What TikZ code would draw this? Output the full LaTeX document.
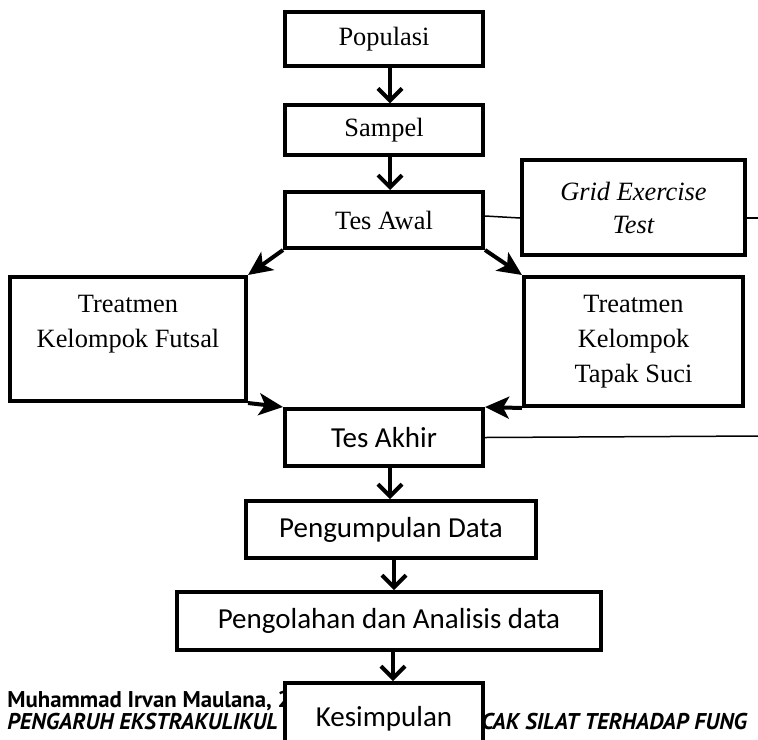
\documentclass[tikz,border=0pt]{standalone}
\usepackage{fontspec}
\setmainfont{Liberation Serif}
\newfontfamily\calibri{Carlito}
\newfontfamily\footfont{PT Sans}
\usetikzlibrary{arrows.meta}

\begin{document}
\begin{tikzpicture}[x=0.5pt,y=-0.5pt,
    box/.style={draw,line width=2pt,fill=white,inner sep=0pt,align=center,font=\fontsize{13.2}{17.5}\selectfont},
    cbox/.style={box,font=\calibri\fontsize{14.5}{17}\selectfont},
    down/.style={line width=2pt,-{Straight Barb[length=6pt,width=12pt]}},
    side/.style={line width=2pt,-{Stealth[length=12pt,width=11pt,inset=3pt]}},
    thinline/.style={line width=0.75pt},
    foot/.style={inner sep=0pt,anchor=base west,font=\footfont\bfseries\fontsize{11.4}{13}\selectfont},
    footit/.style={foot,font=\footfont\bfseries\itshape\fontsize{11.4}{13}\selectfont}]
    \clip (0,0) rectangle (758,739);
    \node[box,minimum width=99pt,minimum height=26.7pt] (pop) at (384,39) {Populasi};
    \node[box,minimum width=99pt,minimum height=24.7pt] (samp) at (384,130) {Sampel};
    \node[box,minimum width=99pt,minimum height=28pt] (awal) at (384,220) {Tes Awal};
    \node[box,minimum width=111.5pt,minimum height=47.5pt,font=\itshape\fontsize{13.2}{16.5}\selectfont] (grid) at (633.5,207.5) {Grid Exercise\\Test};
    \node[box,minimum width=118pt,minimum height=62pt] (futsal) at (128,339) {Treatmen\\Kelompok Futsal\\\mbox{}};
    \node[box,minimum width=109.5pt,minimum height=64.5pt] (tapak) at (633.5,341.5) {Treatmen\\Kelompok\\Tapak Suci};
    \node[cbox,minimum width=99pt,minimum height=28.5pt] (akhir) at (384,437.5) {Tes Akhir};
    \node[cbox,minimum width=145pt,minimum height=28.5pt] (kumpul) at (391,529.5) {Pengumpulan Data};
    \node[cbox,minimum width=212pt,minimum height=29pt] (olah) at (389,621) {Pengolahan dan Analisis data};
    \node[foot] (nama) at (7,707) {Muhammad Irvan Maulana, 2};
    \node[footit] (judulkiri) at (7,729) {PENGARUH EKSTRAKULIKUL};
    \node[footit] (judulkanan) at (481,729) {CAK SILAT TERHADAP FUNG};
    \node[cbox,minimum width=99pt,minimum height=40pt,text height=11pt,text depth=8pt] (simpul) at (384,723) {Kesimpulan};
    \coordinate (rim1) at (760,218);
    \coordinate (rim2) at (760,436);
    \draw[down] ([xshift=3pt]pop.south) -- ([xshift=3pt]samp.north);
    \draw[down] ([xshift=3pt]samp.south) -- ([xshift=3pt]awal.north);
    \draw[down] ([xshift=3pt]akhir.south) -- ([xshift=3pt]akhir.south |- kumpul.north);
    \draw[down] ([xshift=1.5pt]kumpul.south) -- ([xshift=1.5pt]kumpul.south |- olah.north);
    \draw[down] ([xshift=2pt]olah.south) -- ([xshift=2pt]olah.south |- simpul.north);
    \draw[side] (awal.south west) -- (futsal.north east);
    \draw[side] (awal.south east) -- (tapak.north west);
    \draw[side] (futsal.south east) -- (akhir.north west);
    \draw[side] (tapak.south west) -- (akhir.north east);
    \draw[thinline] ([yshift=2pt]awal.east) -- ([yshift=1pt]awal.east -| grid.west);
    \draw[thinline] ([yshift=1pt]grid.east |- awal.east) -- (rim1);
    \draw[thinline] (akhir.east) -- (rim2);
\end{tikzpicture}
\end{document}
